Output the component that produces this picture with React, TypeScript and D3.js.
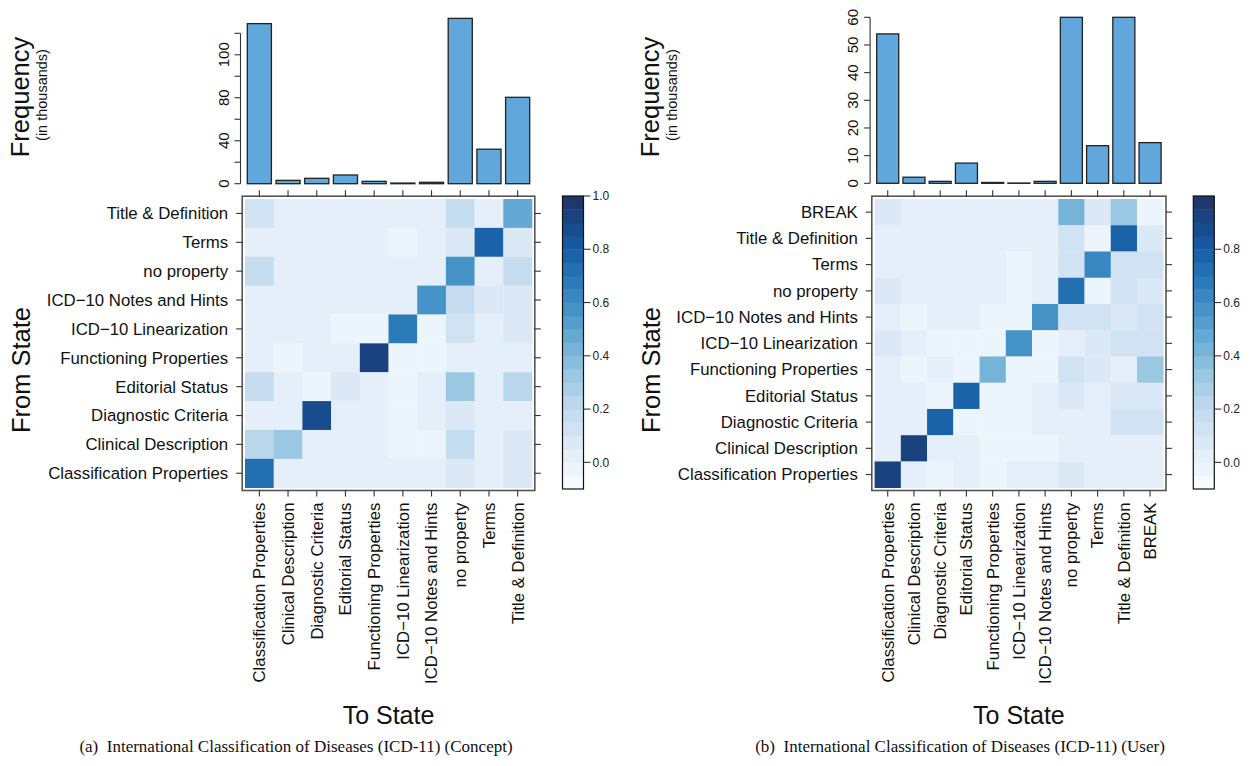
import React, { useEffect, useRef } from 'react';
import * as d3 from 'd3';

// --- data ---
const statesConcept = [
  'Classification Properties', 'Clinical Description', 'Diagnostic Criteria', 'Editorial Status',
  'Functioning Properties', 'ICD−10 Linearization', 'ICD−10 Notes and Hints', 'no property',
  'Terms', 'Title & Definition',
];
const statesUser = [...statesConcept, 'BREAK'];

// frequency of "to" state (thousands)
const freqConcept = [149, 3.1, 5, 8.1, 2.2, 0.6, 1.3, 153.9, 32.1, 80.4];
const freqUser = [54, 2.2, 0.7, 7.3, 0.3, 0.1, 0.7, 60, 13.6, 60, 14.7];

// bar axis ticks (positions and printed labels, as in the original)
const freqTicksConcept = [0, 20, 40, 60, 80, 100, 120, 140];
const freqLabelsConcept = ['0', '', '40', '', '80', '', '100', ''];
const freqTicksUser = [0, 10, 20, 30, 40, 50, 60];
const freqLabelsUser = ['0', '10', '20', '30', '40', '50', '60'];

// transition matrices, rows = from state, top row first
const matConcept = [
  [0.11, 0.01, 0.01, 0.01, 0.01, 0.01, 0.01, 0.175, 0.01, 0.48],
  [0.01, 0.01, 0.01, 0.01, 0.01, -0.04, 0.01, 0.05, 0.78, 0.05],
  [0.175, 0.01, 0.01, 0.01, 0.01, 0.01, 0.01, 0.55, 0.01, 0.175],
  [0.01, 0.01, 0.01, 0.01, 0.01, 0.01, 0.55, 0.175, 0.05, 0.05],
  [0.01, 0.01, 0.01, -0.04, -0.04, 0.7, -0.04, 0.11, 0.01, 0.05],
  [0.01, -0.04, 0.0, 0.0, 0.92, -0.04, -0.04, 0.01, 0.01, 0.01],
  [0.175, 0.01, -0.04, 0.05, 0.01, -0.04, 0.01, 0.31, 0.01, 0.22],
  [0.01, 0.01, 0.88, 0.01, 0.01, -0.04, 0.01, 0.05, 0.01, 0.01],
  [0.22, 0.31, 0.01, 0.01, 0.01, -0.04, -0.04, 0.175, 0.01, 0.05],
  [0.72, 0.01, 0.01, 0.01, 0.01, 0.01, 0.01, 0.05, 0.01, 0.05],
];
const matUser = [
  [0.05, 0.01, 0.01, 0.01, 0.01, 0.01, 0.01, 0.44, 0.05, 0.34, -0.04],
  [0.01, 0.01, 0.01, 0.01, 0.01, 0.01, 0.01, 0.12, -0.02, 0.78, 0.06],
  [0.01, 0.01, 0.01, 0.01, 0.01, -0.04, 0.01, 0.12, 0.62, 0.12, 0.12],
  [0.05, 0.01, 0.01, 0.01, 0.01, -0.04, 0.01, 0.72, -0.02, 0.12, 0.06],
  [0.0, -0.04, 0.0, 0.0, -0.04, -0.04, 0.58, 0.12, 0.12, 0.06, 0.12],
  [0.05, 0.0, -0.04, -0.04, -0.04, 0.58, -0.04, 0.0, 0.06, 0.12, 0.12],
  [0.0, -0.04, 0.01, -0.04, 0.44, -0.04, -0.04, 0.12, 0.06, 0.0, 0.34],
  [0.01, 0.01, -0.04, 0.78, -0.04, -0.04, 0.01, 0.06, 0.01, 0.06, 0.06],
  [0.01, 0.01, 0.78, -0.04, -0.04, -0.04, 0.01, 0.01, 0.01, 0.12, 0.12],
  [0.01, 0.92, 0.0, 0.0, -0.04, -0.04, -0.04, 0.01, 0.01, 0.01, 0.01],
  [0.92, 0.01, -0.04, 0.01, -0.04, 0.0, 0.0, 0.06, 0.01, 0.01, 0.01],
];

const legendTicksConcept = [0, 0.2, 0.4, 0.6, 0.8, 1.0];
const legendTicksUser = [0, 0.2, 0.4, 0.6, 0.8];

const captions = [
  '(a)  International Classification of Diseases (ICD-11) (Concept)',
  '(b)  International Classification of Diseases (ICD-11) (User)',
];

const FONT = "'Liberation Sans', Arial, Helvetica, sans-serif";
const SERIF = "'Liberation Serif', 'Times New Roman', serif";

const blues = d3.interpolateRgbBasis([
  '#f7fbff', '#deebf7', '#c6dbef', '#9ecae1', '#6baed6', '#4292c6', '#2171b5', '#11539c', '#1f376c',
]);
const palette = d3.range(22).map(i => blues(i / 21));
const color = d3.scaleQuantize<string>().domain([-0.1, 1.0]).range(palette);

function drawPanel(svg, opts) {
  const { states, freq, mat, fTicks, fLabels, fMax, cellX, barTop, cbX, cbTicks, caption, capX } = opts;
  const rows = [...states].reverse();
  const top = 199, bottom = 487.7;
  const boxPad = 2.8;
  const tick = 6;

  const x = d3.scaleBand().domain(states).range(cellX);
  const y = d3.scaleBand().domain(rows).range([top, bottom]);

  const g = svg.append('g').style('font-family', FONT);

  // --- heatmap cells ---
  rows.forEach((r, i) => {
    g.append('g')
      .selectAll('rect')
      .data(mat[i])
      .join('rect')
      .attr('x', (_, j) => x(states[j]))
      .attr('y', y(r))
      .attr('width', x.bandwidth() + 0.3)
      .attr('height', y.bandwidth() + 0.3)
      .attr('fill', d => color(d));
  });

  const bx0 = cellX[0] - boxPad, bx1 = cellX[1] + boxPad;
  const by0 = top - boxPad, by1 = bottom + boxPad;
  g.append('rect')
    .attr('x', bx0).attr('y', by0)
    .attr('width', bx1 - bx0).attr('height', by1 - by0)
    .attr('fill', 'none').attr('stroke', '#555').attr('stroke-width', 1.6);

  // ticks on all four sides
  const tk = g.append('g').attr('stroke', '#333').attr('stroke-width', 1.1);
  states.forEach(s => {
    const cx = x(s) + x.bandwidth() / 2;
    tk.append('line').attr('x1', cx).attr('x2', cx).attr('y1', by0).attr('y2', by0 - tick);
    tk.append('line').attr('x1', cx).attr('x2', cx).attr('y1', by1).attr('y2', by1 + tick);
  });
  rows.forEach(r => {
    const cy = y(r) + y.bandwidth() / 2;
    tk.append('line').attr('x1', bx0).attr('x2', bx0 - tick).attr('y1', cy).attr('y2', cy);
    tk.append('line').attr('x1', bx1).attr('x2', bx1 + tick).attr('y1', cy).attr('y2', cy);
  });

  // row labels
  g.append('g')
    .selectAll('text')
    .data(rows)
    .join('text')
    .attr('x', bx0 - tick - 8)
    .attr('y', d => y(d) + y.bandwidth() / 2)
    .attr('dy', '0.35em')
    .attr('text-anchor', 'end')
    .attr('font-size', 16.8)
    .attr('fill', '#111')
    .text(d => d);

  // column labels (rotated)
  g.append('g')
    .selectAll('text')
    .data(states)
    .join('text')
    .attr('transform', d => `translate(${x(d) + x.bandwidth() / 2},${by1 + tick + 6}) rotate(-90)`)
    .attr('dy', '0.35em')
    .attr('text-anchor', 'end')
    .attr('font-size', 16.8)
    .attr('fill', '#111')
    .text(d => d);

  // --- bar chart on top ---
  const yb = d3.scaleLinear().domain([0, fMax]).range([barTop[0], barTop[1]]);
  const bw = x.bandwidth() * 0.84;
  g.append('g')
    .selectAll('rect')
    .data(freq)
    .join('rect')
    .attr('x', (_, i) => x(states[i]) + (x.bandwidth() - bw) / 2)
    .attr('y', d => yb(d))
    .attr('width', bw)
    .attr('height', d => yb(0) - yb(d))
    .attr('fill', '#61a7db')
    .attr('stroke', '#222')
    .attr('stroke-width', 1.3);

  const axX = cellX[0] - 4.5;
  const ax = g.append('g').attr('stroke', '#333').attr('stroke-width', 1.1);
  ax.append('line').attr('x1', axX).attr('x2', axX).attr('y1', yb(fTicks[0])).attr('y2', yb(fTicks[fTicks.length - 1]));
  fTicks.forEach(t => {
    ax.append('line').attr('x1', axX).attr('x2', axX - tick).attr('y1', yb(t)).attr('y2', yb(t));
  });
  g.append('g')
    .selectAll('text')
    .data(fTicks)
    .join('text')
    .attr('transform', d => `translate(${axX - 17},${yb(d)}) rotate(-90)`)
    .attr('dy', '0.35em')
    .attr('text-anchor', 'middle')
    .attr('font-size', 15)
    .attr('fill', '#111')
    .text((_, i) => fLabels[i]);

  // --- color legend ---
  const cbW = 21;
  const yc = d3.scaleLinear().domain([-0.1, 1.0]).range([489, 196]);
  const step = 1.1 / palette.length;
  g.append('g')
    .selectAll('rect')
    .data(palette)
    .join('rect')
    .attr('x', cbX)
    .attr('y', (_, i) => yc(-0.1 + (i + 1) * step))
    .attr('width', cbW)
    .attr('height', yc(-0.1) - yc(-0.1 + step) + 0.4)
    .attr('fill', d => d);
  g.append('rect')
    .attr('x', cbX).attr('y', 196).attr('width', cbW).attr('height', 293)
    .attr('fill', 'none').attr('stroke', '#111').attr('stroke-width', 1.2);
  cbTicks.forEach(t => {
    g.append('line')
      .attr('x1', cbX + cbW).attr('x2', cbX + cbW + 7)
      .attr('y1', yc(t)).attr('y2', yc(t))
      .attr('stroke', '#333').attr('stroke-width', 1.1);
    g.append('text')
      .attr('x', cbX + cbW + 9)
      .attr('y', yc(t))
      .attr('dy', '0.35em')
      .attr('font-size', 12)
      .attr('fill', '#222')
      .text(d3.format('.1f')(t));
  });

  // --- axis titles ---
  const midX = (cellX[0] + cellX[1]) / 2;
  g.append('text')
    .attr('x', midX).attr('y', 724)
    .attr('text-anchor', 'middle')
    .attr('font-size', 25)
    .attr('fill', '#111')
    .text('To State');
  g.append('text')
    .attr('transform', `translate(${opts.titleX},${370}) rotate(-90)`)
    .attr('dy', '0.35em')
    .attr('text-anchor', 'middle')
    .attr('font-size', 25.5)
    .attr('fill', '#111')
    .text('From State');
  g.append('text')
    .attr('transform', `translate(${opts.titleX - 1},${97}) rotate(-90)`)
    .attr('dy', '0.35em')
    .attr('text-anchor', 'middle')
    .attr('font-size', 25.5)
    .attr('fill', '#111')
    .text('Frequency');
  g.append('text')
    .attr('transform', `translate(${opts.titleX + 21},${95}) rotate(-90)`)
    .attr('dy', '0.35em')
    .attr('text-anchor', 'middle')
    .attr('font-size', 14.5)
    .attr('fill', '#111')
    .text('(in thousands)');

  // caption
  svg.append('text')
    .attr('x', capX).attr('y', 752)
    .attr('text-anchor', 'middle')
    .attr('font-family', SERIF)
    .attr('font-size', 17)
    .attr('fill', '#111')
    .style('white-space', 'pre')
    .text(caption);
}

const App = () => {
  const svgRef = useRef(null);

  useEffect(() => {
    const svg = d3.select(svgRef.current);
    svg.selectAll('*').remove();

    drawPanel(svg, {
      states: statesConcept, freq: freqConcept, mat: matConcept,
      fTicks: freqTicksConcept, fLabels: freqLabelsConcept, fMax: 140,
      cellX: [245, 532], barTop: [183.7, 33.3], cbX: 562.5, cbTicks: legendTicksConcept,
      caption: captions[0], capX: 296, titleX: 21,
    });
    drawPanel(svg, {
      states: statesUser, freq: freqUser, mat: matUser,
      fTicks: freqTicksUser, fLabels: freqLabelsUser, fMax: 60,
      cellX: [874.6, 1163.2], barTop: [183.3, 17.3], cbX: 1193.3, cbTicks: legendTicksUser,
      caption: captions[1], capX: 960, titleX: 651,
    });
  }, []);

  return (
    <svg
      ref={svgRef}
      width={1250}
      height={766}
      style={{ position: 'absolute', left: 0, top: 0, background: '#fff' }}
    />
  );
};

export default App;
